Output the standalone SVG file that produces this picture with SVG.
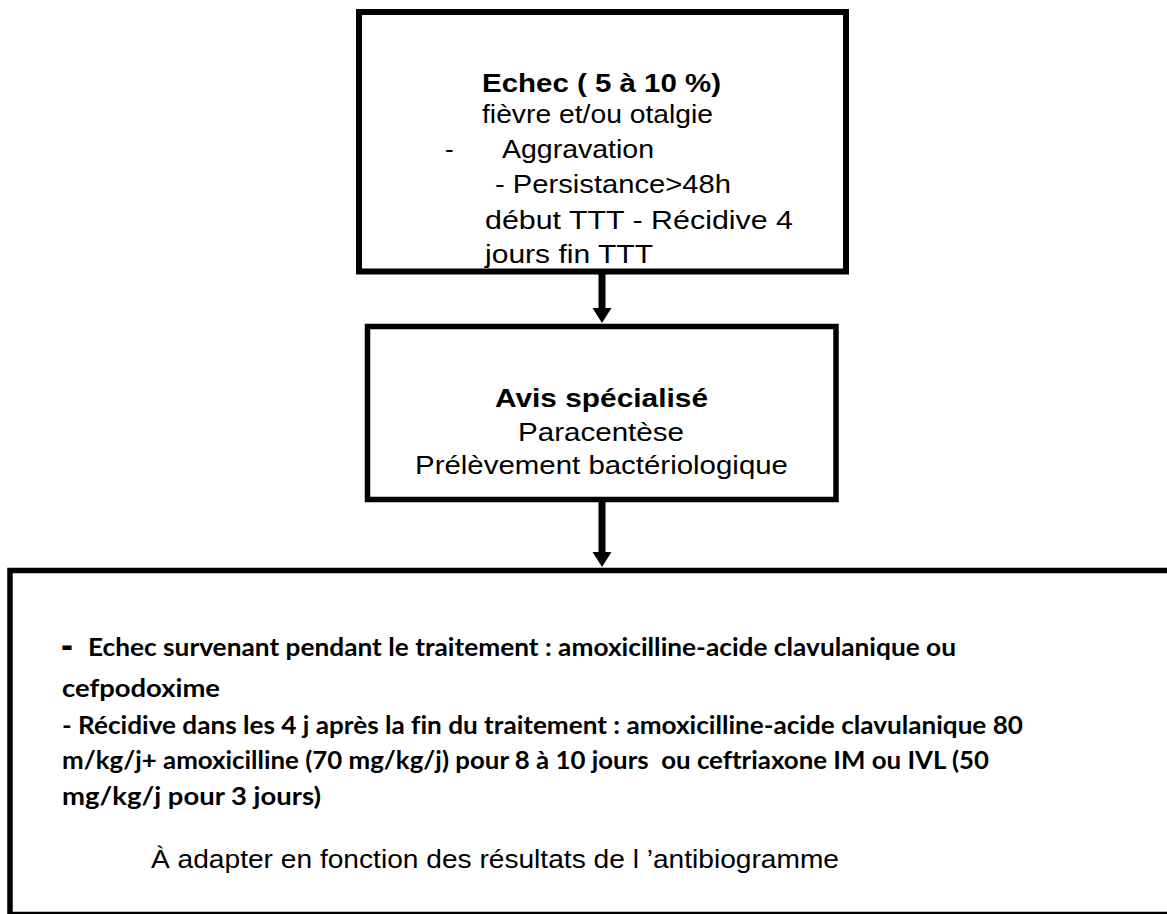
<svg xmlns="http://www.w3.org/2000/svg" width="1167" height="914" viewBox="0 0 1167 914">
<style>
.box{fill:#fff;stroke:#000;stroke-width:5.5}
.ar{font-family:"Liberation Sans",Arial,sans-serif;font-size:26px;fill:#000}
.b{font-weight:bold}
.cal{font-family:Lato,"Open Sans",sans-serif;font-weight:bold;font-size:24px;fill:#000;font-variant-ligatures:none}
.conn{stroke:#000;stroke-width:7;fill:none}
</style>
<defs>
<marker id="head" markerUnits="userSpaceOnUse" markerWidth="20" markerHeight="20" refX="0" refY="0" viewBox="0 -10 16 20" orient="auto" overflow="visible">
<path d="M0,-9.5 L15,0 L0,9.5 z" fill="#000"/>
</marker>
</defs>
<rect width="1167" height="914" fill="#fff"/>
<g id="connectors">
<line class="conn" x1="602" y1="273" x2="602" y2="308" marker-end="url(#head)"/>
<line class="conn" x1="602" y1="501" x2="602" y2="552" marker-end="url(#head)"/>
</g>
<g id="node-echec">
<rect class="box" x="359" y="12" width="487" height="259.5" style="stroke-width:6"/>
<text class="ar b" x="482" y="92" textLength="239" lengthAdjust="spacingAndGlyphs">Echec ( 5 à 10 %)</text>
<text class="ar" x="482" y="123" textLength="231" lengthAdjust="spacingAndGlyphs">fièvre et/ou otalgie</text>
<text class="ar" x="445" y="158">-</text>
<text class="ar" x="502" y="158" textLength="152" lengthAdjust="spacingAndGlyphs">Aggravation</text>
<text class="ar" x="495" y="193" textLength="236" lengthAdjust="spacingAndGlyphs">- Persistance&gt;48h</text>
<text class="ar" x="485" y="229" textLength="308" lengthAdjust="spacingAndGlyphs">début TTT - Récidive 4</text>
<text class="ar" x="485" y="263" textLength="168" lengthAdjust="spacingAndGlyphs">jours fin TTT</text>
</g>
<g id="node-avis">
<rect class="box" x="367.5" y="326.5" width="468.5" height="173"/>
<text class="ar b" x="495" y="407" textLength="213" lengthAdjust="spacingAndGlyphs">Avis spécialisé</text>
<text class="ar" x="518" y="441" textLength="166" lengthAdjust="spacingAndGlyphs">Paracentèse</text>
<text class="ar" x="415" y="474" textLength="373" lengthAdjust="spacingAndGlyphs">Prélèvement bactériologique</text>
</g>
<g id="node-traitement">
<rect class="box" x="10" y="570.5" width="1170" height="344"/>
<text class="ar b" x="61" y="656.5" style="font-size:36px">-</text>
<text class="cal" x="88" y="656" textLength="868" lengthAdjust="spacingAndGlyphs">Echec survenant pendant le traitement : amoxicilline-acide clavulanique ou</text>
<text class="cal" x="62" y="697" textLength="158" lengthAdjust="spacingAndGlyphs">cefpodoxime</text>
<text class="cal" x="62" y="734" textLength="961" lengthAdjust="spacingAndGlyphs">- Récidive dans les 4 j après la fin du traitement : amoxicilline-acide clavulanique 80</text>
<text class="cal" x="62" y="769" textLength="927" lengthAdjust="spacingAndGlyphs" xml:space="preserve">m/kg/j+ amoxicilline (70 mg/kg/j) pour 8 à 10 jours  ou ceftriaxone IM ou IVL (50</text>
<text class="cal" x="62" y="805" textLength="259" lengthAdjust="spacingAndGlyphs">mg/kg/j pour 3 jours)</text>
<text class="ar" x="151" y="868" textLength="688" lengthAdjust="spacingAndGlyphs">À adapter en fonction des résultats de l ’antibiogramme</text>
</g>
</svg>
